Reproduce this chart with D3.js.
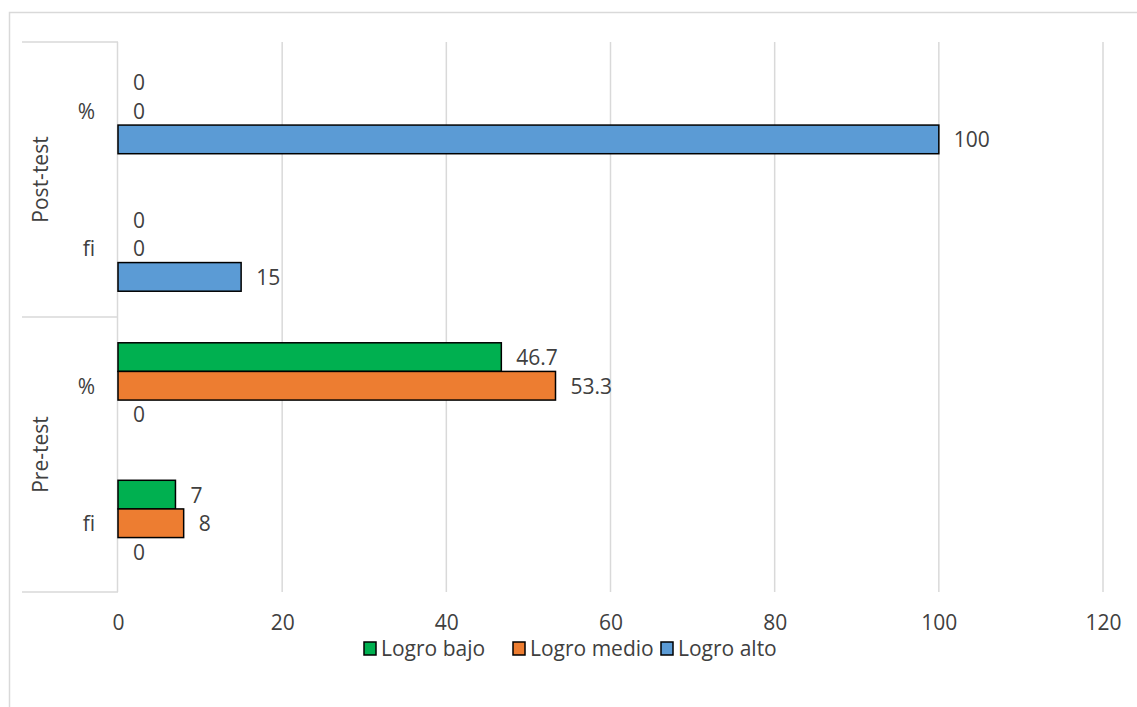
<!DOCTYPE html>
<html><head><meta charset="utf-8">
<script src="https://cdn.jsdelivr.net/npm/d3@7"></script>
<style>
body{margin:0;background:#fff;}
svg{display:block;font-family:"Open Sans",sans-serif;}
</style></head><body>
<svg id="c" width="1137" height="707"></svg>
<script>
const groups = ["Post-test","Post-test","Pre-test","Pre-test"];
const subCats = ["%","fi","%","fi"];
const groupNames = ["Post-test","Pre-test"];
const seriesNames = ["Logro bajo","Logro medio","Logro alto"];
const seriesColors = ["#00B050","#ED7D31","#5B9BD5"];
const logroBajo = [0,0,46.7,7];
const logroMedio = [0,0,53.3,8];
const logroAlto = [100,15,0,0];
const xTicks = [0,20,40,60,80,100,120];

(function(){
const series = [logroBajo, logroMedio, logroAlto];
const svg = d3.select("#c");
const textColor = "#404040";
const gridColor = "#d9d9d9";
const fs = 21;

// outer border
svg.append("rect").attr("x",9.5).attr("y",12.5).attr("width",1140).attr("height",710)
  .attr("fill","none").attr("stroke",gridColor).attr("stroke-width",1.5);

const pLeft=118, pRight=1103, pTop=42, pBottom=592;
const x = d3.scaleLinear().domain([0,120]).range([pLeft,pRight]);
const keys = d3.range(groups.length);
const y = d3.scaleBand().domain(keys).range([pTop,pBottom]);
const yInner = d3.scaleBand().domain(d3.range(series.length))
  .range([y.bandwidth()*0.1875, y.bandwidth()*0.8125]);

// gridlines
svg.append("g").selectAll("line").data(xTicks.slice(1)).join("line")
  .attr("x1",d=>x(d)).attr("x2",d=>x(d)).attr("y1",pTop).attr("y2",pBottom)
  .attr("stroke",gridColor).attr("stroke-width",1.5);

// category axis line
svg.append("line").attr("x1",pLeft-0.5).attr("x2",pLeft-0.5).attr("y1",pTop).attr("y2",pBottom)
  .attr("stroke",gridColor).attr("stroke-width",1.5);

// group separators
const sepY = [pTop, y(2), pBottom];
svg.append("g").selectAll("line").data(sepY).join("line")
  .attr("x1",22).attr("x2",pLeft).attr("y1",d=>d).attr("y2",d=>d)
  .attr("stroke",gridColor).attr("stroke-width",1.5);

// sub-category labels
svg.append("g").selectAll("text").data(keys).join("text")
  .attr("x",95).attr("y",d=>y(d)+y.bandwidth()/2)
  .attr("text-anchor","end").attr("dominant-baseline","central")
  .attr("fill",textColor).attr("font-size",fs).text(d=>subCats[d]);

// group labels
groupNames.forEach((g,i)=>{
  const idx = keys.filter(k=>groups[k]===g);
  const y0 = y(idx[0]), y1 = y(idx[idx.length-1])+y.bandwidth();
  const cy=(y0+y1)/2;
  svg.append("text").attr("transform",`translate(40,${cy}) rotate(-90)`)
    .attr("text-anchor","middle").attr("dominant-baseline","central")
    .attr("fill",textColor).attr("font-size",fs).text(g);
});

// bars
series.forEach((vals,si)=>{
  const g = svg.append("g");
  keys.forEach(k=>{
    const v = vals[k];
    const by = y(k)+yInner(si);
    if(v>0){
      g.append("rect").attr("x",x(0)).attr("y",by).attr("width",x(v)-x(0))
        .attr("height",yInner.bandwidth()).attr("fill",seriesColors[si])
        .attr("stroke","#000").attr("stroke-width",1.5);
    }
    g.append("text").attr("x",x(v)+15).attr("y",by+yInner.bandwidth()/2)
      .attr("dominant-baseline","central").attr("fill",textColor).attr("font-size",fs)
      .text(v);
  });
});

// x axis
const ax = svg.append("g").attr("transform",`translate(0,${pBottom})`)
  .call(d3.axisBottom(x).tickValues(xTicks).tickSize(0).tickPadding(23));
ax.select(".domain").remove();
ax.selectAll("text").attr("fill",textColor).attr("font-size",fs).attr("font-family","Open Sans, sans-serif");

// legend
const legX = [364, 513, 661];
const legY = 648;
seriesNames.forEach((n,i)=>{
  svg.append("rect").attr("x",legX[i]).attr("y",legY-6).attr("width",12).attr("height",13)
    .attr("fill",seriesColors[i]).attr("stroke","#000").attr("stroke-width",1.5);
  svg.append("text").attr("x",legX[i]+17).attr("y",legY).attr("dominant-baseline","central")
    .attr("fill",textColor).attr("font-size",fs).text(n);
});
})();
</script>
</body></html>
